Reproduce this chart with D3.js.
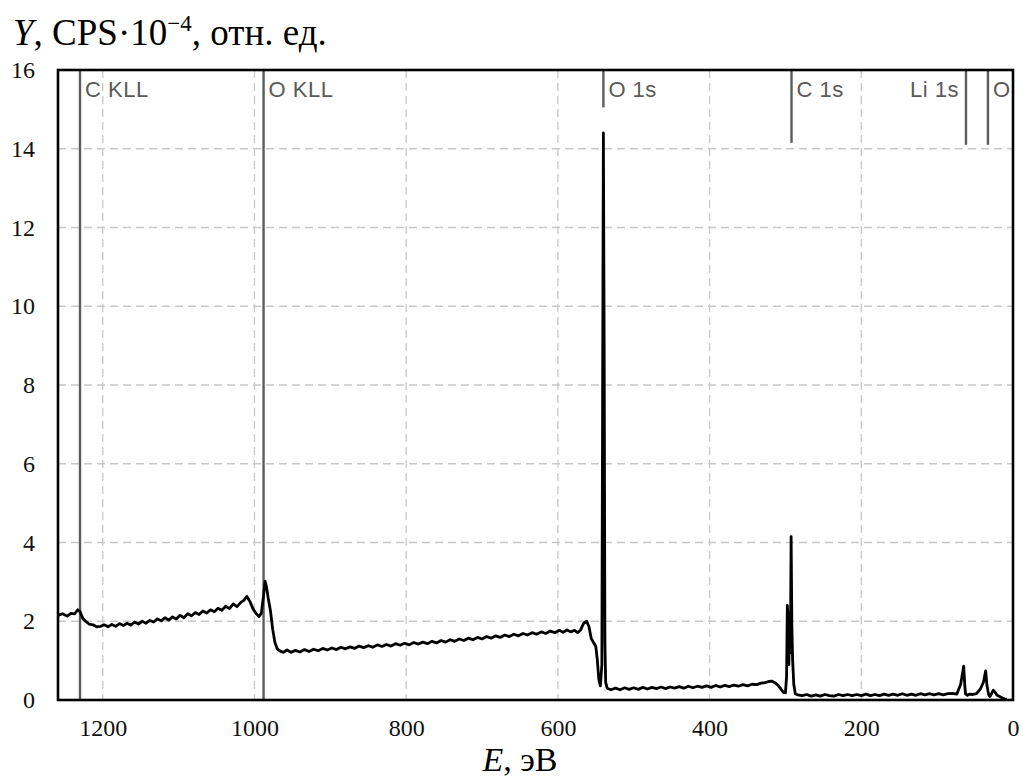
<!DOCTYPE html>
<html>
<head>
<meta charset="utf-8">
<script src="https://cdn.jsdelivr.net/npm/d3@7"></script>
<style>
  body { margin: 0; background: #fff; }
  svg { display: block; }
</style>
</head>
<body>
<div class="chart"></div>
<script>
// spectrum, binding energy (eV) and counts (CPS*10^-4)
const energy = [
  1259, 1253, 1247, 1242, 1237, 1233, 1230, 1226, 1222, 1218, 1213, 1208, 1203, 1198, 1193, 1188,
  1183, 1178, 1173, 1168, 1163, 1158, 1153, 1148, 1143, 1138, 1133, 1128, 1123, 1118, 1113, 1108,
  1103, 1098, 1093, 1088, 1083, 1078, 1073, 1068, 1063, 1058, 1053, 1048, 1043, 1038, 1033, 1028,
  1023, 1018, 1014, 1010, 1006, 1002, 998, 994, 991, 988, 986, 984, 982, 979, 976, 973, 970, 966,
  962, 957, 952, 946, 940, 934, 928, 922, 916, 910, 904, 898, 892, 886, 880, 874, 868, 862, 856,
  850, 844, 838, 832, 826, 820, 814, 808, 802, 796, 790, 784, 778, 772, 766, 760, 754, 748, 742,
  736, 730, 724, 718, 712, 706, 700, 694, 688, 682, 676, 670, 664, 658, 652, 646, 640, 634, 628,
  622, 616, 610, 604, 598, 593, 588, 583, 578, 574, 570, 566, 562, 559, 556, 553, 550, 548, 546,
  544, 542, 541, 540, 539, 538, 537, 535, 530, 524, 518, 512, 506, 500, 494, 488, 482, 476, 470,
  464, 458, 452, 446, 440, 434, 428, 422, 416, 410, 404, 398, 392, 386, 380, 374, 368, 362, 356,
  350, 344, 338, 332, 327, 322, 318, 314, 310, 306, 303, 300, 298.5, 297.5, 296.5, 295.5, 294.5,
  293.5, 292.5, 291.5, 290.5, 289, 287, 284, 278, 272, 266, 260, 254, 248, 242, 236, 230, 224, 218,
  212, 206, 200, 194, 188, 182, 176, 170, 164, 158, 152, 146, 140, 134, 128, 122, 116, 110, 104,
  98, 92, 86, 80, 74, 69, 65, 63.5, 62.5, 61.5, 60, 57, 53, 48, 43, 39, 36, 34.5, 33.2, 32, 30.5,
  28.5, 26, 23, 21, 19, 17, 14, 11, 8, 5, 3
];
const counts = [
  2.15, 2.19, 2.13, 2.2, 2.19, 2.29, 2.25, 2.06, 1.99, 1.93, 1.91, 1.86, 1.87, 1.91, 1.86, 1.92,
  1.87, 1.94, 1.89, 1.95, 1.9, 1.98, 1.93, 2.0, 1.95, 2.02, 1.98, 2.06, 2.01, 2.09, 2.03, 2.11,
  2.06, 2.15, 2.09, 2.19, 2.14, 2.22, 2.17, 2.26, 2.21, 2.29, 2.24, 2.33, 2.28, 2.38, 2.32, 2.44,
  2.37, 2.48, 2.53, 2.63, 2.5, 2.32, 2.2, 2.12, 2.2, 2.65, 3.02, 2.86, 2.6, 2.28, 1.8, 1.46, 1.3, 1.24,
  1.21, 1.27, 1.21, 1.26, 1.22, 1.28, 1.23, 1.29, 1.25, 1.31, 1.27, 1.32, 1.28, 1.34, 1.3, 1.35, 1.31, 1.37, 1.33,
  1.38, 1.34, 1.4, 1.36, 1.41, 1.37, 1.43, 1.39, 1.44, 1.4, 1.46, 1.42, 1.47, 1.43, 1.49, 1.45, 1.51, 1.47, 1.53,
  1.49, 1.55, 1.51, 1.57, 1.53, 1.59, 1.55, 1.61, 1.57, 1.63, 1.59, 1.65, 1.61, 1.67, 1.63, 1.69, 1.65, 1.71, 1.67,
  1.73, 1.69, 1.75, 1.71, 1.77, 1.72, 1.78, 1.73, 1.77, 1.71, 1.78, 1.95, 2.0, 1.86, 1.56, 1.46, 1.36, 1.02, 0.52,
  0.36, 0.9, 8.0, 14.4, 9.0, 1.5, 0.45, 0.3, 0.26, 0.3, 0.26, 0.31, 0.27, 0.31, 0.27, 0.32, 0.28, 0.32, 0.29,
  0.33, 0.29, 0.33, 0.3, 0.34, 0.3, 0.35, 0.31, 0.35, 0.32, 0.36, 0.32, 0.37, 0.33, 0.37, 0.34, 0.38, 0.35, 0.39,
  0.36, 0.4, 0.39, 0.43, 0.44, 0.47, 0.48, 0.44, 0.38, 0.28, 0.2, 0.18, 0.6, 2.4, 2.1, 0.9, 1.9,
  1.2, 4.15, 1.85, 1.0, 0.4, 0.16, 0.13, 0.11, 0.14, 0.1, 0.13, 0.1, 0.14, 0.11, 0.1, 0.14, 0.11, 0.14,
  0.11, 0.14, 0.11, 0.15, 0.11, 0.14, 0.11, 0.15, 0.12, 0.15, 0.12, 0.16, 0.12, 0.15, 0.12, 0.16, 0.13, 0.16,
  0.13, 0.16, 0.13, 0.16, 0.17, 0.15, 0.4, 0.86, 0.35, 0.15, 0.14, 0.12, 0.15, 0.14, 0.16, 0.28, 0.45, 0.74, 0.4, 0.25,
  0.13, 0.09, 0.15, 0.25, 0.18, 0.12, 0.1, 0.08, 0.05, 0.03, 0.02
];

// peak markers
const markerNames = ['C KLL', 'O KLL', 'O 1s', 'C 1s', 'Li 1s', 'O'];
const markerEnergy = [1230, 988, 540, 292, 62, 33];
const markerLow = [0, 0, 15.05, 14.15, 14.1, 14.1];

// axes
const xTicks = [1200, 1000, 800, 600, 400, 200, 0];
const yTicks = [0, 2, 4, 6, 8, 10, 12, 14, 16];

const width = 1023;
const height = 782;
const margin = { left: 58, right: 10, top: 70, bottom: 82 };
const serif = '"Liberation Serif", "Times New Roman", serif';

const svg = d3.select('.chart')
              .append('svg')
              .attr('width', width)
              .attr('height', height);

const x = d3.scaleLinear()
            .domain([1259, 0])
            .range([margin.left, width - margin.right]);
const y = d3.scaleLinear()
            .domain([0, 16])
            .range([height - margin.bottom, margin.top]);

svg.append('clipPath')
   .attr('id', 'plot-clip')
   .append('rect')
   .attr('x', margin.left)
   .attr('y', margin.top)
   .attr('width', width - margin.left - margin.right)
   .attr('height', height - margin.top - margin.bottom);

// dashed grid
svg.append('g')
   .selectAll('line')
   .data(xTicks.filter(d => d > 0))
   .join('line')
   .attr('x1', d => x(d)).attr('x2', d => x(d))
   .attr('y1', y(16)).attr('y2', y(0))
   .attr('stroke', '#c8c8c8')
   .attr('stroke-width', 1.3)
   .attr('stroke-dasharray', '8,5');
svg.append('g')
   .selectAll('line')
   .data(yTicks.filter(d => d > 0 && d < 16))
   .join('line')
   .attr('x1', x(1259)).attr('x2', x(0))
   .attr('y1', d => y(d)).attr('y2', d => y(d))
   .attr('stroke', '#c8c8c8')
   .attr('stroke-width', 1.3)
   .attr('stroke-dasharray', '8,5');

// marker lines and labels
const markers = svg.append('g').attr('clip-path', 'url(#plot-clip)');
markers.selectAll('line')
       .data(markerNames)
       .join('line')
       .attr('x1', (d, i) => x(markerEnergy[i]))
       .attr('x2', (d, i) => x(markerEnergy[i]))
       .attr('y1', y(16))
       .attr('y2', (d, i) => y(markerLow[i]))
       .attr('stroke', '#5c5c5c')
       .attr('stroke-width', 2.4);
markers.selectAll('text')
       .data(markerNames)
       .join('text')
       .attr('x', (d, i) => d === 'Li 1s' ? x(markerEnergy[i]) - 7 : x(markerEnergy[i]) + 5)
       .attr('y', 97)
       .attr('text-anchor', d => d === 'Li 1s' ? 'end' : 'start')
       .style('font-family', '"Liberation Sans", Arial, sans-serif')
       .style('font-size', '22px')
       .style('letter-spacing', '0.5px')
       .attr('fill', '#5a5a5a')
       .text(d => d);

// spectrum line
const points = energy.map((e, i) => [e, counts[i]]);
svg.append('path')
   .datum(points)
   .attr('clip-path', 'url(#plot-clip)')
   .attr('fill', 'none')
   .attr('stroke', '#000')
   .attr('stroke-width', 2.8)
   .attr('stroke-linejoin', 'round')
   .attr('d', d3.line().x(d => x(d[0])).y(d => y(d[1])));

// frame
svg.append('rect')
   .attr('x', margin.left)
   .attr('y', margin.top)
   .attr('width', width - margin.left - margin.right)
   .attr('height', height - margin.top - margin.bottom)
   .attr('fill', 'none')
   .attr('stroke', '#000')
   .attr('stroke-width', 2.6);

// tick labels
svg.append('g')
   .attr('transform', `translate(0, ${y(0)})`)
   .call(d3.axisBottom(x).tickValues(xTicks).tickSize(0).tickPadding(19).tickFormat(d3.format('d')))
   .call(g => g.select('.domain').remove())
   .selectAll('text')
   .style('font-family', serif)
   .style('font-size', '24px')
   .attr('fill', '#111');
svg.append('g')
   .attr('transform', `translate(${margin.left}, 0)`)
   .call(d3.axisLeft(y).tickValues(yTicks).tickSize(0).tickPadding(23))
   .call(g => g.select('.domain').remove())
   .selectAll('text')
   .style('font-family', serif)
   .style('font-size', '24px')
   .attr('fill', '#111');

// axis titles
const yTitle = svg.append('text')
                  .attr('x', 13)
                  .attr('y', 45)
                  .style('font-family', serif)
                  .style('font-size', '37px')
                  .attr('fill', '#000');
yTitle.append('tspan').attr('font-style', 'italic').text('Y');
yTitle.append('tspan').text(', CPS\u00b710');
yTitle.append('tspan').style('font-size', '23px').attr('dy', -14).text('\u22124');
yTitle.append('tspan').attr('dy', 14).text(', отн. ед.');

const xTitle = svg.append('text')
                  .attr('x', 520)
                  .attr('y', 771)
                  .attr('text-anchor', 'middle')
                  .style('font-family', serif)
                  .style('font-size', '34px')
                  .attr('fill', '#000');
xTitle.append('tspan').attr('font-style', 'italic').text('E');
xTitle.append('tspan').text(', эВ');
</script>
</body>
</html>
